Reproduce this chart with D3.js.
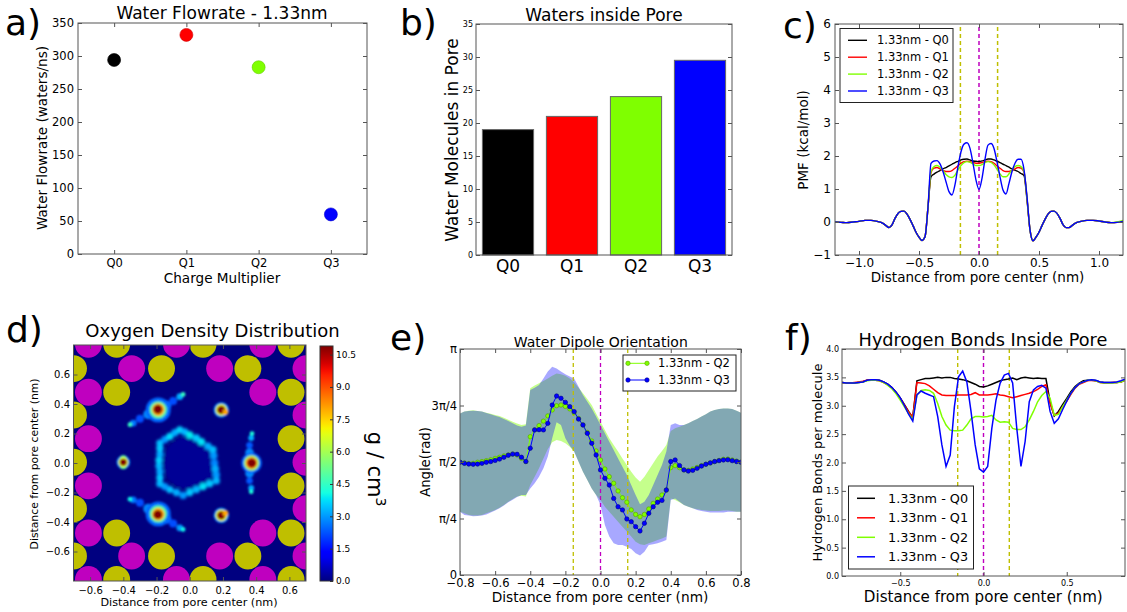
<!DOCTYPE html>
<html><head><meta charset="utf-8">
<script src="https://cdn.jsdelivr.net/npm/d3@7/dist/d3.min.js"></script>
<style>html,body{margin:0;padding:0;background:#fff}svg{display:block}</style>
</head><body>
<svg id="fig" width="1127" height="612" xmlns="http://www.w3.org/2000/svg"></svg>
<script>
// ================= DATA =================
const charges = ["Q0", "Q1", "Q2", "Q3"];
const chargeColors = ["#000000", "#ff0000", "#7fff00", "#0000ff"];
const seriesNames = ["1.33nm - Q0", "1.33nm - Q1", "1.33nm - Q2", "1.33nm - Q3"];

// a) water flowrate (waters/ns)
const flowrate = [294, 332, 283, 60];
const flowTicks = [0, 50, 100, 150, 200, 250, 300, 350];

// b) water molecules in pore
const poreWaters = [19, 21, 24, 29.5];
const poreTicks = [0, 5, 10, 15, 20, 25, 30, 35];

// c) PMF (kcal/mol) vs distance from pore center (nm)
const pmfX = [-1.2,-1.15,-1.1,-1.05,-1.0,-0.95,-0.9,-0.85,-0.8,-0.775,-0.75,-0.725,-0.7,-0.675,-0.65,-0.625,-0.6,-0.575,-0.55,-0.525,-0.5,-0.475,-0.45,-0.425,
  -0.4,-0.375,-0.35,-0.325,-0.3,-0.275,-0.25,-0.225,-0.2,-0.175,-0.15,-0.125,-0.1,-0.075,-0.05,-0.025,0,0.025,0.05,0.075,0.1,0.125,0.15,0.175,0.2,0.225,0.25,0.275,0.3,0.325,0.35,0.375,0.4,
  0.425,0.45,0.475,0.5,0.525,0.55,0.575,0.6,0.625,0.65,0.675,0.7,0.725,0.75,0.775,0.8,0.85,0.9,0.95,1.0,1.05,1.1,1.15,1.2];
const pmfQ0 = [0.0,-0.01,-0.02,0.0,0.02,0.05,0.05,0.02,-0.04,-0.11,-0.17,-0.09,0.11,0.26,0.32,0.33,0.24,0.08,-0.11,-0.31,-0.46,-0.56,-0.45,0.45,
  1.37,1.45,1.51,1.56,1.61,1.65,1.70,1.75,1.80,1.84,1.88,1.90,1.91,1.88,1.85,1.84,1.83,1.85,1.88,1.91,1.91,1.88,1.84,1.80,1.75,1.71,1.66,1.61,1.57,1.53,1.47,1.41,0.67,
  -0.24,-0.57,-0.46,-0.31,-0.11,0.08,0.24,0.32,0.33,0.26,0.11,-0.08,-0.17,-0.17,-0.11,-0.04,0.02,0.05,0.05,0.03,0.0,-0.02,-0.01,0.02];
const pmfQ1 = [0.0,-0.01,-0.02,0.0,0.02,0.05,0.05,0.02,-0.04,-0.11,-0.17,-0.09,0.11,0.26,0.32,0.33,0.24,0.08,-0.11,-0.31,-0.46,-0.56,-0.45,0.45,
  1.50,1.63,1.65,1.61,1.56,1.53,1.53,1.56,1.63,1.70,1.78,1.83,1.84,1.83,1.80,1.78,1.78,1.80,1.83,1.84,1.83,1.78,1.70,1.63,1.56,1.53,1.53,1.56,1.61,1.65,1.63,1.51,0.72,
  -0.24,-0.57,-0.46,-0.31,-0.11,0.08,0.24,0.32,0.33,0.26,0.11,-0.08,-0.17,-0.17,-0.11,-0.04,0.02,0.05,0.05,0.03,0.0,-0.02,-0.01,0.02];
const pmfQ2 = [0.0,-0.01,-0.02,0.0,0.02,0.05,0.05,0.02,-0.04,-0.11,-0.17,-0.09,0.11,0.26,0.32,0.33,0.24,0.08,-0.11,-0.31,-0.46,-0.56,-0.45,0.45,
  1.53,1.68,1.71,1.66,1.56,1.44,1.37,1.35,1.42,1.58,1.71,1.80,1.83,1.81,1.76,1.71,1.71,1.74,1.80,1.83,1.81,1.73,1.60,1.46,1.37,1.37,1.46,1.58,1.68,1.71,1.68,1.53,0.72,
  -0.24,-0.57,-0.46,-0.31,-0.11,0.08,0.24,0.32,0.33,0.26,0.11,-0.08,-0.17,-0.17,-0.11,-0.04,0.02,0.05,0.05,0.03,0.0,-0.02,0.0,0.05];
const pmfQ3 = [0.0,-0.01,-0.02,0.0,0.02,0.05,0.05,0.02,-0.04,-0.11,-0.17,-0.09,0.11,0.26,0.32,0.33,0.24,0.08,-0.11,-0.31,-0.46,-0.56,-0.45,0.45,
  1.78,1.85,1.86,1.76,1.53,1.22,0.92,0.82,1.13,1.68,2.13,2.36,2.40,2.23,1.78,1.27,0.99,1.32,1.90,2.33,2.38,2.23,1.83,1.37,0.97,0.85,1.17,1.53,1.78,1.90,1.90,1.59,0.77,
  -0.24,-0.57,-0.46,-0.31,-0.11,0.08,0.24,0.32,0.33,0.26,0.11,-0.08,-0.17,-0.17,-0.11,-0.04,0.02,0.05,0.05,0.03,0.0,-0.02,-0.01,0.02];
const pmfXTicks = [-1, -0.5, 0, 0.5, 1];
const pmfYTicks = [-1, 0, 1, 2, 3, 4, 5, 6];
const poreMarks = [-0.155, 0, 0.155];           // dashed reference lines (nm)
const poreMarkColors = ["#bfbf00", "#bf00bf", "#bfbf00"];

// d) oxygen density map: pore atoms [x, y, type] and density spots [x, y, g/cm3, radius]
const poreAtoms = [
  [-0.61,0.805,"m"],[-0.44,0.805,"y"],[-0.08,0.805,"m"],[0.08,0.805,"y"],[0.44,0.805,"m"],[0.61,0.805,"y"],
  [-0.70,0.64,"y"],[-0.35,0.64,"m"],[-0.17,0.64,"y"],[0.18,0.64,"m"],[0.35,0.64,"y"],[0.70,0.64,"m"],
  [-0.61,0.48,"m"],[-0.44,0.48,"y"],[0.44,0.48,"m"],[0.61,0.48,"y"],
  [-0.70,0.325,"y"],[0.70,0.325,"m"],
  [-0.61,0.165,"m"],[0.61,0.165,"y"],
  [-0.70,0.005,"y"],[0.70,0.005,"m"],
  [-0.61,-0.155,"m"],[0.61,-0.155,"y"],
  [-0.70,-0.31,"y"],[0.70,-0.31,"m"],
  [-0.61,-0.475,"m"],[-0.44,-0.475,"y"],[0.44,-0.475,"m"],[0.61,-0.475,"y"],
  [-0.70,-0.63,"y"],[-0.35,-0.63,"m"],[-0.17,-0.63,"y"],[0.18,-0.63,"m"],[0.35,-0.63,"y"],[0.70,-0.63,"m"],
  [-0.61,-0.79,"m"],[-0.44,-0.79,"y"],[-0.08,-0.79,"m"],[0.08,-0.79,"y"],[0.44,-0.79,"m"],[0.61,-0.79,"y"]
];
const atomRadius = 0.081;
const atomColors = {m: "#bf00bf", y: "#bfbf00"};
// diffuse hexagonal ring of low density around the pore axis
const ringSpots = [
  [0.0,0.0,0.2,0.16],
  [-0.18,0.135,3.4,0.022],[-0.15,0.16,3.0,0.022],[-0.12,0.18,3.7,0.022],[-0.09,0.205,3.2,0.022],[-0.06,0.225,3.6,0.022],
  [-0.03,0.21,3.3,0.022],[0.0,0.19,3.9,0.022],[0.04,0.17,3.5,0.022],[0.07,0.145,3.8,0.022],[0.11,0.115,3.2,0.022],[0.14,0.09,3.4,0.022],
  [0.145,0.05,3.0,0.022],[0.15,0.0,2.8,0.022],[0.155,-0.04,3.2,0.022],[0.16,-0.08,3.0,0.022],[0.16,-0.12,3.3,0.022],
  [0.12,-0.14,3.5,0.022],[0.08,-0.16,3.8,0.022],[0.04,-0.18,3.3,0.022],[0.0,-0.2,3.5,0.022],[-0.04,-0.22,3.0,0.022],
  [-0.08,-0.2,3.2,0.022],[-0.12,-0.18,3.4,0.022],[-0.15,-0.16,3.0,0.022],[-0.18,-0.14,3.3,0.022],
  [-0.18,-0.1,3.5,0.022],[-0.18,-0.06,3.2,0.022],[-0.185,-0.02,3.3,0.022],[-0.185,0.02,3.6,0.022],[-0.18,0.06,3.2,0.022],[-0.18,0.1,3.5,0.022]
];
// high-density sites with their tails
const oxygenSpots = [
  [-0.14,0.39,2.4,0.03],[-0.1,0.42,2.2,0.024],[-0.06,0.45,3.2,0.02],[-0.04,0.465,4.5,0.014],
  [-0.25,0.33,2.8,0.03],[-0.30,0.30,2.2,0.024],[-0.34,0.27,2.6,0.02],[-0.36,0.26,4.5,0.014],
  [0.36,0.07,2.8,0.026],[0.36,0.12,2.3,0.02],[0.37,0.17,3.2,0.018],[0.375,0.2,4.2,0.014],
  [0.36,-0.07,2.8,0.026],[0.36,-0.12,2.3,0.02],[0.37,-0.17,3.2,0.018],[0.37,-0.195,4.2,0.014],
  [-0.25,-0.31,2.8,0.03],[-0.30,-0.27,2.2,0.024],[-0.34,-0.25,2.6,0.02],[-0.36,-0.245,4,0.014],
  [-0.14,-0.38,2.4,0.03],[-0.1,-0.41,2.2,0.024],[-0.06,-0.44,3,0.02],[-0.04,-0.45,4,0.014],
  [-0.19,0.36,2.5,0.075],[-0.19,0.36,5,0.052],[-0.19,0.362,8,0.038],[-0.192,0.364,10.9,0.027],
  [0.19,0.36,3,0.046],[0.19,0.36,7,0.035],[0.19,0.36,10.9,0.025],[0.215,0.345,8,0.017],
  [-0.40,0.005,3,0.04],[-0.40,0.03,5,0.02],[-0.40,-0.02,5,0.02],[-0.40,0.005,7,0.03],[-0.40,0.005,10.9,0.021],
  [0.372,0.0,2.5,0.062],[0.372,0.0,6,0.046],[0.372,0.0,9,0.034],[0.374,0.0,10.9,0.025],
  [-0.19,-0.345,2.5,0.075],[-0.19,-0.345,5,0.052],[-0.19,-0.347,8,0.038],[-0.192,-0.35,10.9,0.027],
  [0.19,-0.355,3,0.046],[0.19,-0.355,7,0.035],[0.19,-0.355,10.9,0.025],[0.215,-0.34,8,0.017]
];
const mapTicks = [-0.6, -0.4, -0.2, 0, 0.2, 0.4, 0.6];
const densityMax = 10.9;
const densityTicks = [0, 1.5, 3, 4.5, 6, 7.5, 9, 10.5];

// e) water dipole orientation (angle in units of pi)
const dipoleX = [-0.8,-0.775,-0.75,-0.725,-0.7,-0.675,-0.65,-0.625,-0.6,-0.575,-0.55,-0.525,-0.5,-0.475,-0.45,-0.425,-0.4,-0.375,-0.35,-0.325,-0.3,-0.275,-0.25,-0.225,-0.2,-0.175,-0.15,-0.125,-0.1,-0.075,-0.05,-0.025,0,
  0.025,0.05,0.075,0.1,0.125,0.15,0.175,0.2,0.225,0.25,0.275,0.3,0.325,0.35,0.375,0.4,0.425,0.45,0.475,0.5,0.525,0.55,0.575,0.6,0.625,0.65,0.675,0.7,0.725,0.75,0.775,0.8];
const dipoleQ2 = [0.499,0.496,0.493,0.494,0.499,0.502,0.506,0.510,0.516,0.521,0.527,0.531,0.535,0.531,0.516,0.502,0.612,0.642,0.661,0.681,0.704,0.730,0.749,0.752,0.746,0.735,0.718,0.693,0.664,0.631,0.593,0.549,0.509,
  0.469,0.435,0.406,0.372,0.342,0.322,0.288,0.268,0.258,0.268,0.292,0.317,0.336,0.354,0.376,0.475,0.484,0.475,0.465,0.463,0.469,0.476,0.484,0.490,0.496,0.502,0.507,0.512,0.513,0.509,0.504,0.499];
const dipoleQ3 = [0.499,0.494,0.491,0.490,0.491,0.494,0.499,0.502,0.507,0.513,0.521,0.530,0.535,0.534,0.521,0.502,0.561,0.642,0.643,0.642,0.671,0.752,0.792,0.782,0.764,0.745,0.723,0.690,0.664,0.627,0.583,0.531,0.465,
  0.428,0.398,0.339,0.302,0.288,0.248,0.236,0.214,0.195,0.229,0.273,0.302,0.322,0.330,0.376,0.502,0.509,0.484,0.465,0.460,0.463,0.472,0.482,0.490,0.496,0.502,0.506,0.509,0.510,0.506,0.502,0.499];
const dipoleQ2Hi = [0.715,0.723,0.727,0.729,0.726,0.723,0.718,0.714,0.708,0.704,0.696,0.687,0.678,0.670,0.664,0.667,0.826,0.838,0.848,0.858,0.870,0.882,0.892,0.888,0.882,0.870,0.853,0.829,0.804,0.779,0.752,0.715,
  0.678,0.642,0.605,0.575,0.546,0.516,0.487,0.457,0.431,0.413,0.435,0.465,0.494,0.524,0.549,0.575,0.637,0.649,0.656,0.664,0.671,0.681,0.690,0.701,0.711,0.723,0.730,0.735,0.737,0.737,0.735,0.727,0.718];
const dipoleQ2Lo = [0.280,0.273,0.265,0.263,0.263,0.265,0.273,0.280,0.288,0.298,0.310,0.324,0.336,0.347,0.351,0.347,0.398,0.435,0.472,0.516,0.558,0.587,0.597,0.593,0.583,0.568,0.546,0.501,0.457,0.420,0.383,0.354,
  0.332,0.302,0.280,0.258,0.236,0.214,0.192,0.170,0.147,0.136,0.133,0.140,0.147,0.155,0.162,0.170,0.339,0.332,0.322,0.310,0.302,0.295,0.291,0.288,0.285,0.283,0.283,0.283,0.285,0.285,0.283,0.280,0.280];
const dipoleQ3Hi = [0.715,0.723,0.726,0.727,0.726,0.723,0.717,0.711,0.705,0.699,0.690,0.681,0.671,0.661,0.656,0.661,0.819,0.829,0.841,0.870,0.900,0.922,0.914,0.900,0.888,0.878,0.870,0.833,0.796,0.767,0.737,0.701,
  0.664,0.627,0.590,0.553,0.516,0.479,0.442,0.398,0.354,0.313,0.324,0.354,0.398,0.442,0.487,0.546,0.664,0.671,0.664,0.664,0.671,0.681,0.690,0.701,0.711,0.723,0.730,0.735,0.737,0.737,0.735,0.727,0.718];
const dipoleQ3Lo = [0.280,0.265,0.263,0.260,0.261,0.263,0.268,0.276,0.285,0.295,0.307,0.322,0.333,0.345,0.354,0.354,0.383,0.406,0.435,0.472,0.524,0.605,0.676,0.664,0.605,0.572,0.546,0.501,0.457,0.420,0.383,0.354,
  0.310,0.221,0.170,0.140,0.133,0.133,0.125,0.115,0.096,0.086,0.103,0.133,0.136,0.140,0.147,0.155,0.332,0.339,0.324,0.310,0.302,0.295,0.288,0.283,0.280,0.277,0.276,0.276,0.277,0.280,0.280,0.280,0.280];
const dipoleXTicks = [-0.8,-0.6,-0.4,-0.2,0,0.2,0.4,0.6,0.8];
const dipoleYTicks = [0, 0.25, 0.5, 0.75, 1];
const dipoleYLabels = ["0", "π/4", "π/2", "3π/4", "π"];

// f) hydrogen bonds per molecule
const hbondX = [-0.85,-0.825,-0.8,-0.775,-0.75,-0.725,-0.7,-0.675,-0.65,-0.625,-0.6,-0.575,-0.55,-0.525,-0.5,-0.475,-0.45,-0.425,-0.4,-0.375,-0.35,-0.325,-0.3,-0.275,-0.25,-0.225,-0.2,-0.175,-0.15,-0.125,-0.1,-0.075,-0.05,-0.025,0,
  0.025,0.05,0.075,0.1,0.125,0.15,0.175,0.2,0.225,0.25,0.275,0.3,0.325,0.35,0.375,0.4,0.425,0.45,0.475,0.5,0.525,0.55,0.575,0.6,0.625,0.65,0.675,0.7,0.725,0.75,0.775,0.8,0.825,0.85];
const hbondQ0 = [3.41,3.40,3.40,3.40,3.41,3.42,3.45,3.46,3.46,3.45,3.42,3.38,3.32,3.24,3.14,3.02,2.90,2.79,
  3.44,3.46,3.48,3.48,3.49,3.50,3.49,3.50,3.50,3.48,3.47,3.46,3.44,3.41,3.38,3.34,3.33,3.35,3.38,3.41,3.44,3.46,3.47,3.49,3.46,3.49,3.50,3.49,3.48,3.49,3.48,3.48,3.07,2.82,2.90,3.02,3.13,3.25,3.34,3.40,3.44,3.45,3.45,3.44,3.42,3.41,3.41,3.41,3.41,3.42,3.45];
const hbondQ1 = [3.41,3.40,3.40,3.41,3.42,3.43,3.45,3.46,3.45,3.44,3.41,3.37,3.31,3.23,3.13,3.01,2.89,2.80,
  3.41,3.40,3.39,3.35,3.29,3.23,3.19,3.18,3.18,3.18,3.19,3.19,3.19,3.20,3.23,3.19,3.19,3.19,3.20,3.21,3.19,3.18,3.16,3.14,3.16,3.18,3.20,3.22,3.25,3.29,3.34,3.37,3.04,2.83,2.87,2.98,3.08,3.20,3.31,3.38,3.41,3.44,3.45,3.44,3.41,3.40,3.40,3.41,3.41,3.42,3.45];
const hbondQ2 = [3.41,3.40,3.40,3.40,3.41,3.42,3.44,3.45,3.45,3.44,3.41,3.36,3.30,3.21,3.10,2.98,2.86,2.76,
  3.19,3.27,3.28,3.27,3.22,3.04,2.81,2.66,2.57,2.56,2.56,2.57,2.66,2.77,2.81,2.81,2.80,2.81,2.83,2.75,2.71,2.72,2.71,2.60,2.58,2.58,2.63,2.75,2.90,3.07,3.18,3.25,3.13,2.83,2.85,2.98,3.10,3.22,3.32,3.39,3.42,3.45,3.46,3.44,3.41,3.40,3.40,3.40,3.41,3.42,3.45];
const hbondQ3 = [3.41,3.40,3.40,3.40,3.41,3.42,3.45,3.46,3.46,3.45,3.42,3.38,3.32,3.24,3.14,3.00,2.85,2.73,
  3.19,3.26,3.22,3.19,3.16,2.81,2.31,1.93,2.13,2.98,3.51,3.61,3.42,2.90,2.31,1.89,1.83,1.93,2.60,3.10,3.40,3.54,3.57,3.40,2.60,1.93,2.37,3.07,3.28,3.34,3.36,3.31,2.90,2.69,2.77,2.93,3.08,3.22,3.32,3.39,3.42,3.45,3.46,3.45,3.42,3.41,3.41,3.41,3.42,3.44,3.47];
const hbondXTicks = [-0.5, 0, 0.5];
const hbondYTicks = [0, 0.5, 1, 1.5, 2, 2.5, 3, 3.5, 4];

// ================= DRAWING =================
const FONT = "'DejaVu Sans', sans-serif";
const FRAME = "#555";
const svg = d3.select("#fig");
const defs = svg.append("defs");

function txt(x, y, s, size, anchor = "middle", rot = 0) {
  const t = svg.append("text").attr("font-family", FONT).attr("font-size", size)
    .attr("text-anchor", anchor).attr("fill", "#000");
  if (rot) t.attr("transform", `translate(${x},${y}) rotate(${rot})`); else t.attr("x", x).attr("y", y);
  t.text(s);
  return t;
}
function clip(id, x, y) {
  const [x0, x1] = x.range(), [yb, yt] = y.range();
  defs.append("clipPath").attr("id", id).append("rect").attr("x", x0).attr("y", yt).attr("width", x1 - x0).attr("height", yb - yt);
  return `url(#${id})`;
}
function frameAxes(g, x, y, o) {
  const [x0, x1] = x.range(), [yb, yt] = y.range();
  const tl = 4;
  const mk = (axis, tr) => g.append("g").attr("transform", tr).call(axis);
  const B = mk(d3.axisBottom(x).tickValues(o.xt).tickFormat(o.xf).tickSizeInner(-tl).tickSizeOuter(0).tickPadding(o.xpad), `translate(0,${yb})`);
  const T = mk(d3.axisTop(x).tickValues(o.xt).tickFormat("").tickSizeInner(-tl).tickSizeOuter(0), `translate(0,${yt})`);
  const L = mk(d3.axisLeft(y).tickValues(o.yt).tickFormat(o.yf).tickSizeInner(-tl).tickSizeOuter(0).tickPadding(o.ypad), `translate(${x0},0)`);
  const R = mk(d3.axisRight(y).tickValues(o.yt).tickFormat("").tickSizeInner(-tl).tickSizeOuter(0), `translate(${x1},0)`);
  for (const a of [B, T, L, R]) {
    a.select(".domain").remove();
    a.selectAll(".tick line").attr("stroke", FRAME);
    a.attr("font-family", FONT);
  }
  B.attr("font-size", o.xfs); L.attr("font-size", o.yfs);
  B.selectAll("text").attr("fill", "#000"); L.selectAll("text").attr("fill", "#000");
  g.append("rect").attr("x", x0).attr("y", yt).attr("width", x1 - x0).attr("height", yb - yt)
    .attr("fill", "none").attr("stroke", FRAME).attr("stroke-width", 1);
}
function jet(t) {
  t = Math.max(0, Math.min(1, t));
  const seg = pts => {
    for (let i = 1; i < pts.length; i++) {
      if (t <= pts[i][0]) { const [a, va] = pts[i - 1], [b, vb] = pts[i]; return va + (vb - va) * (t - a) / (b - a); }
    }
    return pts[pts.length - 1][1];
  };
  const r = seg([[0, 0], [0.35, 0], [0.66, 1], [0.89, 1], [1, 0.5]]);
  const g = seg([[0, 0], [0.125, 0], [0.375, 1], [0.64, 1], [0.91, 0], [1, 0]]);
  const b = seg([[0, 0.5], [0.11, 1], [0.34, 1], [0.65, 0], [1, 0]]);
  return d3.rgb(r * 255, g * 255, b * 255).formatHex();
}
const f1 = d3.format(".1f");

// ---------- a) ----------
{
  const g = svg.append("g");
  const x = d3.scaleLinear().domain([-0.5, 3.5]).range([78, 367]);
  const y = d3.scaleLinear().domain([0, 350]).range([254, 23]);
  g.selectAll("circle").data(flowrate).join("circle")
    .attr("cx", (d, i) => x(i)).attr("cy", d => y(d)).attr("r", 6.5)
    .attr("fill", (d, i) => chargeColors[i]).attr("stroke", (d, i) => d3.color(chargeColors[i]).darker(0.6)).attr("stroke-width", 0.6);
  frameAxes(g, x, y, {xt: [0, 1, 2, 3], xf: i => charges[i], yt: flowTicks, yf: d3.format("d"), xfs: 11.5, yfs: 11.5, xpad: 5, ypad: 4});
  txt(222, 19, "Water Flowrate - 1.33nm", 17);
  txt(222, 283, "Charge Multiplier", 13.6);
  txt(47, 138, "Water Flowrate (waters/ns)", 13.6, "middle", -90);
  txt(5, 35, "a)", 36, "start");
}

// ---------- b) ----------
{
  const g = svg.append("g");
  const x = d3.scaleBand().domain(charges).range([476, 732]).paddingInner(0.2).paddingOuter(0.1);
  const y = d3.scaleLinear().domain([0, 35]).range([255, 24]);
  g.selectAll("rect.bar").data(poreWaters).join("rect").attr("class", "bar")
    .attr("x", (d, i) => x(charges[i])).attr("width", x.bandwidth())
    .attr("y", d => y(d)).attr("height", d => y(0) - y(d))
    .attr("fill", (d, i) => chargeColors[i]).attr("stroke", "#666").attr("stroke-width", 1);
  const B = g.append("g").attr("transform", "translate(0,255)").call(d3.axisBottom(x).tickSize(0).tickPadding(5));
  B.select(".domain").remove(); B.attr("font-family", FONT).attr("font-size", 17); B.selectAll("text").attr("fill", "#000");
  const L = g.append("g").attr("transform", "translate(476,0)").call(d3.axisLeft(y).tickValues(poreTicks).tickFormat(d3.format("d")).tickSizeInner(-4).tickSizeOuter(0).tickPadding(3));
  const R = g.append("g").attr("transform", "translate(732,0)").call(d3.axisRight(y).tickValues(poreTicks).tickFormat("").tickSizeInner(-4).tickSizeOuter(0));
  for (const a of [L, R]) { a.select(".domain").remove(); a.selectAll(".tick line").attr("stroke", FRAME); }
  L.attr("font-family", FONT).attr("font-size", 8); L.selectAll("text").attr("fill", "#000");
  g.append("rect").attr("x", 476).attr("y", 24).attr("width", 256).attr("height", 231).attr("fill", "none").attr("stroke", FRAME);
  txt(604, 20.5, "Waters inside Pore", 17);
  txt(458, 140, "Water Molecules in Pore", 17, "middle", -90);
  txt(400, 35, "b)", 36, "start");
}

// ---------- c) ----------
{
  const g = svg.append("g");
  const x = d3.scaleLinear().domain([-1.2, 1.2]).range([835, 1123]);
  const y = d3.scaleLinear().domain([-1, 6]).range([255, 24]);
  const cp = clip("clipC", x, y);
  const pg = g.append("g").attr("clip-path", cp);
  poreMarks.forEach((m, i) => pg.append("line").attr("x1", x(m)).attr("x2", x(m)).attr("y1", y(-1)).attr("y2", y(6))
    .attr("stroke", poreMarkColors[i]).attr("stroke-width", 1.5).attr("stroke-dasharray", "4,3"));
  const series = [pmfQ0, pmfQ1, pmfQ2, pmfQ3];
  const line = d3.line().x((d, i) => x(pmfX[i])).y(d => y(d)).curve(d3.curveMonotoneX);
  series.forEach((s, k) => pg.append("path").attr("d", line(s)).attr("fill", "none")
    .attr("stroke", chargeColors[k]).attr("stroke-width", 1.4));
  frameAxes(g, x, y, {xt: pmfXTicks, xf: f1, yt: pmfYTicks, yf: d3.format("d"), xfs: 12, yfs: 12, xpad: 3, ypad: 4});
  const lg = g.append("g");
  lg.append("rect").attr("x", 840).attr("y", 28.5).attr("width", 113).attr("height", 74).attr("fill", "#fff").attr("stroke", "#222");
  seriesNames.forEach((n, k) => {
    const yy = 40.3 + k * 16.9;
    lg.append("line").attr("x1", 848).attr("x2", 867).attr("y1", yy).attr("y2", yy).attr("stroke", chargeColors[k]).attr("stroke-width", 1.4);
    lg.append("text").attr("x", 877).attr("y", yy + 4).attr("font-family", FONT).attr("font-size", 11.5).attr("fill", "#000").text(n);
  });
  txt(977.5, 282, "Distance from pore center (nm)", 13.5);
  txt(808, 140, "PMF (kcal/mol)", 13.5, "middle", -90);
  txt(783, 38, "c)", 36, "start");
}

// ---------- d) ----------
{
  const g = svg.append("g");
  const x = d3.scaleLinear().domain([-0.7, 0.7]).range([73.5, 306]);
  const y = d3.scaleLinear().domain([-0.8, 0.8]).range([581, 345]);
  const cp = clip("clipD", x, y);
  const pg = g.append("g").attr("clip-path", cp);
  pg.append("rect").attr("x", 73.5).attr("y", 345).attr("width", 232.5).attr("height", 236).attr("fill", jet(0));
  defs.append("filter").attr("id", "blurD").attr("x", "-50%").attr("y", "-50%").attr("width", "200%").attr("height", "200%")
    .append("feGaussianBlur").attr("stdDeviation", 1.3);
  defs.append("filter").attr("id", "blurRing").attr("x", "-50%").attr("y", "-50%").attr("width", "200%").attr("height", "200%")
    .append("feGaussianBlur").attr("stdDeviation", 1.6);
  const kx = x(1) - x(0);
  pg.append("g").attr("filter", "url(#blurRing)").selectAll("circle").data(ringSpots).join("circle")
    .attr("cx", d => x(d[0])).attr("cy", d => y(d[1])).attr("r", d => d[3] * kx)
    .attr("fill", d => jet(d[2] / densityMax));
  pg.append("g").attr("filter", "url(#blurD)").selectAll("circle").data(oxygenSpots).join("circle")
    .attr("cx", d => x(d[0])).attr("cy", d => y(d[1])).attr("r", d => d[3] * kx)
    .attr("fill", d => jet(d[2] / densityMax));
  pg.append("g").selectAll("circle").data(poreAtoms).join("circle")
    .attr("cx", d => x(d[0])).attr("cy", d => y(d[1])).attr("r", atomRadius * kx)
    .attr("fill", d => atomColors[d[2]]);
  frameAxes(g, x, y, {xt: mapTicks, xf: f1, yt: mapTicks, yf: f1, xfs: 10, yfs: 10, xpad: 6, ypad: 3.5});
  // colorbar
  const c = d3.scaleLinear().domain([0, densityMax]).range([581, 346]);
  const grad = defs.append("linearGradient").attr("id", "jetGrad").attr("x1", 0).attr("y1", 1).attr("x2", 0).attr("y2", 0);
  d3.range(0, 1.0001, 0.025).forEach(t => grad.append("stop").attr("offset", t).attr("stop-color", jet(t)));
  g.append("rect").attr("x", 320).attr("y", 346).attr("width", 13).attr("height", 235).attr("fill", "url(#jetGrad)").attr("stroke", "#333");
  const CB = g.append("g").attr("transform", "translate(333,0)").call(d3.axisRight(c).tickValues(densityTicks).tickFormat(f1).tickSizeInner(-3).tickSizeOuter(0).tickPadding(3));
  CB.select(".domain").remove(); CB.selectAll(".tick line").attr("stroke", "#333");
  CB.attr("font-family", FONT).attr("font-size", 9); CB.selectAll("text").attr("fill", "#000");
  const u = svg.append("text").attr("font-family", FONT).attr("font-size", 21).attr("text-anchor", "middle").attr("fill", "#000")
    .attr("transform", "translate(368,469) rotate(90)");
  u.append("tspan").text("g / cm");
  u.append("tspan").attr("font-size", 14).attr("dy", -8).text("3");
  txt(212.5, 336.5, "Oxygen Density Distribution", 18);
  txt(189, 605.5, "Distance from pore center (nm)", 11.2);
  txt(37.5, 464, "Distance from pore center (nm)", 10.8, "middle", -90);
  txt(6, 342, "d)", 36, "start");
}

// ---------- e) ----------
{
  const g = svg.append("g");
  const x = d3.scaleLinear().domain([-0.8, 0.8]).range([460, 741]);
  const y = d3.scaleLinear().domain([0, 1]).range([575, 349]);
  const cp = clip("clipE", x, y);
  const pg = g.append("g").attr("clip-path", cp);
  const band = (lo, hi) => d3.area().x((d, i) => x(dipoleX[i])).y0((d, i) => y(lo[i])).y1((d, i) => y(hi[i]))(dipoleX);
  pg.append("path").attr("d", band(dipoleQ2Lo, dipoleQ2Hi)).attr("fill", "#7fff00").attr("fill-opacity", 0.45);
  pg.append("path").attr("d", band(dipoleQ3Lo, dipoleQ3Hi)).attr("fill", "#0000ff").attr("fill-opacity", 0.34);
  poreMarks.forEach((m, i) => pg.append("line").attr("x1", x(m)).attr("x2", x(m)).attr("y1", 349).attr("y2", 575)
    .attr("stroke", poreMarkColors[i]).attr("stroke-width", 1.3).attr("stroke-dasharray", "4,3"));
  const dip = [[dipoleQ2, chargeColors[2], "#5a9e00"], [dipoleQ3, chargeColors[3], "#00008b"]];
  const line = d3.line().x((d, i) => x(dipoleX[i])).y(d => y(d));
  dip.forEach(([s, col, edge]) => {
    pg.append("path").attr("d", line(s)).attr("fill", "none").attr("stroke", col).attr("stroke-width", 1);
    pg.append("g").selectAll("circle").data(s).join("circle").attr("cx", (d, i) => x(dipoleX[i])).attr("cy", d => y(d))
      .attr("r", 2.2).attr("fill", col).attr("stroke", edge).attr("stroke-width", 0.6);
  });
  frameAxes(g, x, y, {xt: dipoleXTicks, xf: f1, yt: dipoleYTicks, yf: (d, i) => dipoleYLabels[i], xfs: 11.5, yfs: 11.5, xpad: 3.5, ypad: 3});
  const lg = g.append("g");
  lg.append("rect").attr("x", 623).attr("y", 355).attr("width", 113).attr("height", 36).attr("fill", "#fff").attr("stroke", "#222");
  [["1.33nm - Q2", chargeColors[2], "#5a9e00"], ["1.33nm - Q3", chargeColors[3], "#00008b"]].forEach(([n, col, edge], k) => {
    const yy = 363.3 + k * 16.7;
    lg.append("line").attr("x1", 628).attr("x2", 647).attr("y1", yy).attr("y2", yy).attr("stroke", col).attr("stroke-width", 1);
    [628, 647].forEach(cx => lg.append("circle").attr("cx", cx).attr("cy", yy).attr("r", 2.2).attr("fill", col).attr("stroke", edge).attr("stroke-width", 0.6));
    lg.append("text").attr("x", 658).attr("y", yy + 4).attr("font-family", FONT).attr("font-size", 11.5).attr("fill", "#000").text(n);
  });
  txt(600.8, 346.5, "Water Dipole Orientation", 14);
  txt(600, 601.5, "Distance from pore center (nm)", 13.7);
  txt(430, 462, "Angle(rad)", 13.2, "middle", -90);
  txt(390, 350, "e)", 36, "start");
}

// ---------- f) ----------
{
  const g = svg.append("g");
  const x = d3.scaleLinear().domain([-0.85, 0.85]).range([842, 1125]);
  const y = d3.scaleLinear().domain([0, 4]).range([576, 349]);
  const cp = clip("clipF", x, y);
  const pg = g.append("g").attr("clip-path", cp);
  poreMarks.forEach((m, i) => pg.append("line").attr("x1", x(m)).attr("x2", x(m)).attr("y1", 349).attr("y2", 576)
    .attr("stroke", poreMarkColors[i]).attr("stroke-width", 1.4).attr("stroke-dasharray", "4,3"));
  const line = d3.line().x((d, i) => x(hbondX[i])).y(d => y(d));
  [hbondQ0, hbondQ1, hbondQ2, hbondQ3].forEach((s, k) => pg.append("path").attr("d", line(s)).attr("fill", "none")
    .attr("stroke", chargeColors[k]).attr("stroke-width", 1.5));
  frameAxes(g, x, y, {xt: hbondXTicks, xf: f1, yt: hbondYTicks, yf: f1, xfs: 8, yfs: 8, xpad: 4, ypad: 3});
  const lg = g.append("g");
  lg.append("rect").attr("x", 848.5).attr("y", 486).attr("width", 125).attr("height", 83).attr("fill", "#fff").attr("stroke", "#222");
  seriesNames.forEach((n, k) => {
    const yy = 498.3 + k * 19.5;
    lg.append("line").attr("x1", 857).attr("x2", 875).attr("y1", yy).attr("y2", yy).attr("stroke", chargeColors[k]).attr("stroke-width", 1.5);
    lg.append("text").attr("x", 888).attr("y", yy + 4.5).attr("font-family", FONT).attr("font-size", 12.8).attr("fill", "#000").text(n);
  });
  txt(983, 346, "Hydrogen Bonds Inside Pore", 17.7);
  txt(983.3, 602, "Distance from pore center (nm)", 15.1);
  txt(821.7, 462.5, "Hydrogen Bonds per molecule", 13.1, "middle", -90);
  txt(785, 350, "f)", 36, "start");
}
</script>
</body></html>
